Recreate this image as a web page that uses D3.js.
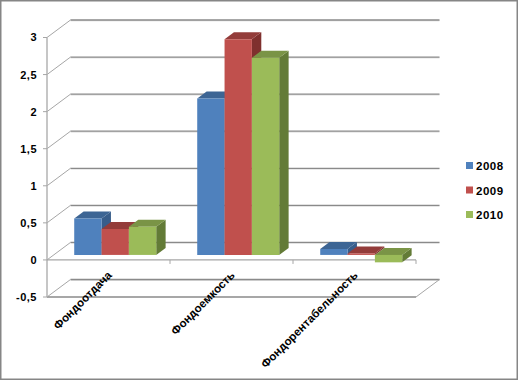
<!DOCTYPE html>
<html>
<head>
<meta charset="utf-8">
<script src="https://cdn.jsdelivr.net/npm/d3@7/dist/d3.min.js"></script>
<style>
html,body{margin:0;padding:0;background:#fff;}
svg{display:block;}
text{font-family:"Liberation Sans",Arial,sans-serif;font-weight:bold;fill:#000;}
</style>
</head>
<body>
<svg id="chart" width="518" height="380"></svg>
<script>
const categories = ["Фондоотдача", "Фондоемкость", "Фондорентабельность"];
const seriesNames = ["2008", "2009", "2010"];
const values2008 = [0.49, 2.11, 0.08];
const values2009 = [0.35, 2.91, 0.02];
const values2010 = [0.38, 2.66, -0.10];
const yTicks = [-0.5, 0, 0.5, 1, 1.5, 2, 2.5, 3];
const yTickLabels = ["-0,5", "0", "0,5", "1", "1,5", "2", "2,5", "3"];

const seriesValues = [values2008, values2009, values2010];
const colors = [
  {front:"#4F81BD", top:"#3D6594", side:"#385D8A"},
  {front:"#C0504D", top:"#933C3A", side:"#7F302E"},
  {front:"#9BBB59", top:"#7A9446", side:"#637B37"}
];

const svg = d3.select("#chart");
// border
svg.append("rect").attr("x",0.75).attr("y",0.75).attr("width",516.5).attr("height",378.5)
  .attr("fill","#fff").attr("stroke","#868686").attr("stroke-width",1.5);

const x0 = 47, x1 = 416;
const DX = 23.5, DY = 17.5;
const y = d3.scaleLinear().domain([-0.5, 3]).range([297, 37.5]);
const xBand = d3.scaleBand().domain(categories).range([x0, x1]).paddingInner(1/3).paddingOuter(1/6);
const xSeries = d3.scaleBand().domain(seriesNames).range([0, xBand.bandwidth()]);

function P(xf, v, d){ return [xf + d*DX, y(v) - d*DY]; }
const line = d3.line();

const g = svg.append("g");

// back wall gridlines
yTicks.forEach(t => {
  const a = P(x0, t, 1), b = P(x1, t, 1);
  g.append("line").attr("x1",a[0]).attr("y1",a[1]+0.8).attr("x2",b[0]).attr("y2",b[1]+0.8)
    .attr("stroke","#d9d9d9").attr("stroke-width",1);
  g.append("line").attr("x1",a[0]).attr("y1",a[1]).attr("x2",b[0]).attr("y2",b[1])
    .attr("stroke","#8a8a8a").attr("stroke-width",1.3);
});
// left wall diagonals
yTicks.forEach(t => {
  const a = P(x0, t, 0), b = P(x0, t, 1);
  g.append("path").attr("d", line([a,b])).attr("stroke","#a6a6a6").attr("stroke-width",1).attr("fill","none");
});
// floor: front line and right diagonal
{
  const a = P(x0, -0.5, 0), b = P(x1, -0.5, 0), c = P(x1, -0.5, 1);
  g.append("path").attr("d", line([a,b])).attr("stroke","#8a8a8a").attr("stroke-width",1.3).attr("fill","none");
  g.append("path").attr("d", line([b,c])).attr("stroke","#a6a6a6").attr("stroke-width",1).attr("fill","none");
}
// front vertical axis
{
  const a = P(x0, 3, 0), b = P(x0, -0.5, 0);
  g.append("path").attr("d", line([a,b])).attr("stroke","#b3b3b3").attr("stroke-width",1.5).attr("fill","none");
}
// y tick marks + labels
yTicks.forEach((t,i) => {
  const a = P(x0, t, 0);
  g.append("line").attr("x1",a[0]-4).attr("y1",a[1]).attr("x2",a[0]).attr("y2",a[1])
    .attr("stroke","#a6a6a6").attr("stroke-width",1);
  g.append("text").attr("x",a[0]-10).attr("y",a[1]).attr("dy","0.36em")
    .attr("text-anchor","end").attr("font-size",11).attr("letter-spacing",0.5).text(yTickLabels[i]);
});
// horizontal (category) axis at zero, front
{
  const a = P(x0, 0, 0), b = P(x1, 0, 0);
  g.append("path").attr("d", line([a,b])).attr("stroke","#a6a6a6").attr("stroke-width",1.2).attr("fill","none");
  const bounds = [x0].concat(categories.map(c => xBand(c) - xBand.step()*xBand.paddingInner()/2 + xBand.step()));
  bounds.slice(1).forEach(bx => {
    const p = P(bx, 0, 0);
    g.append("line").attr("x1",p[0]).attr("y1",p[1]).attr("x2",p[0]).attr("y2",p[1]+4)
      .attr("stroke","#a6a6a6").attr("stroke-width",1);
  });
}

// bars
const dF = 0.286, dB = 0.686;
categories.forEach((cat, ci) => {
  seriesNames.forEach((s, si) => {
    const v = seriesValues[si][ci];
    const top = Math.max(v, 0), bot = Math.min(v, 0);
    const xl = xBand(cat) + xSeries(s), xr = xl + xSeries.bandwidth();
    const c = colors[si];
    const fTL = P(xl, top, dF), fTR = P(xr, top, dF), fBR = P(xr, bot, dF), fBL = P(xl, bot, dF);
    const bTL = P(xl, top, dB), bTR = P(xr, top, dB), bBR = P(xr, bot, dB);
    const bar = g.append("g");
    bar.append("path").attr("d", line([fTR, bTR, bBR, fBR]) + "Z").attr("fill", c.side);
    bar.append("path").attr("d", line([fTL, fTR, bTR, bTL]) + "Z").attr("fill", c.top);
    bar.append("path").attr("d", line([fTL, fTR, fBR, fBL]) + "Z").attr("fill", c.front);
  });
});

// category labels
categories.forEach(cat => {
  const cx = xBand(cat) + xBand.bandwidth()/2;
  const p = P(cx, -0.5, 0);
  g.append("text").attr("transform", `translate(${p[0]+4},${p[1]-21}) rotate(-45)`)
    .attr("text-anchor","end").attr("font-size",11.5).text(cat);
});

// legend
const leg = svg.append("g").attr("transform","translate(466,162)");
seriesNames.forEach((s, i) => {
  const row = leg.append("g").attr("transform", `translate(0,${i*24.5})`);
  row.append("rect").attr("x",0).attr("y",0).attr("width",7).attr("height",7).attr("fill", colors[i].front);
  row.append("text").attr("x",10).attr("y",8).attr("font-size",11.5).attr("letter-spacing",0.5).text(s);
});
</script>
</body>
</html>
